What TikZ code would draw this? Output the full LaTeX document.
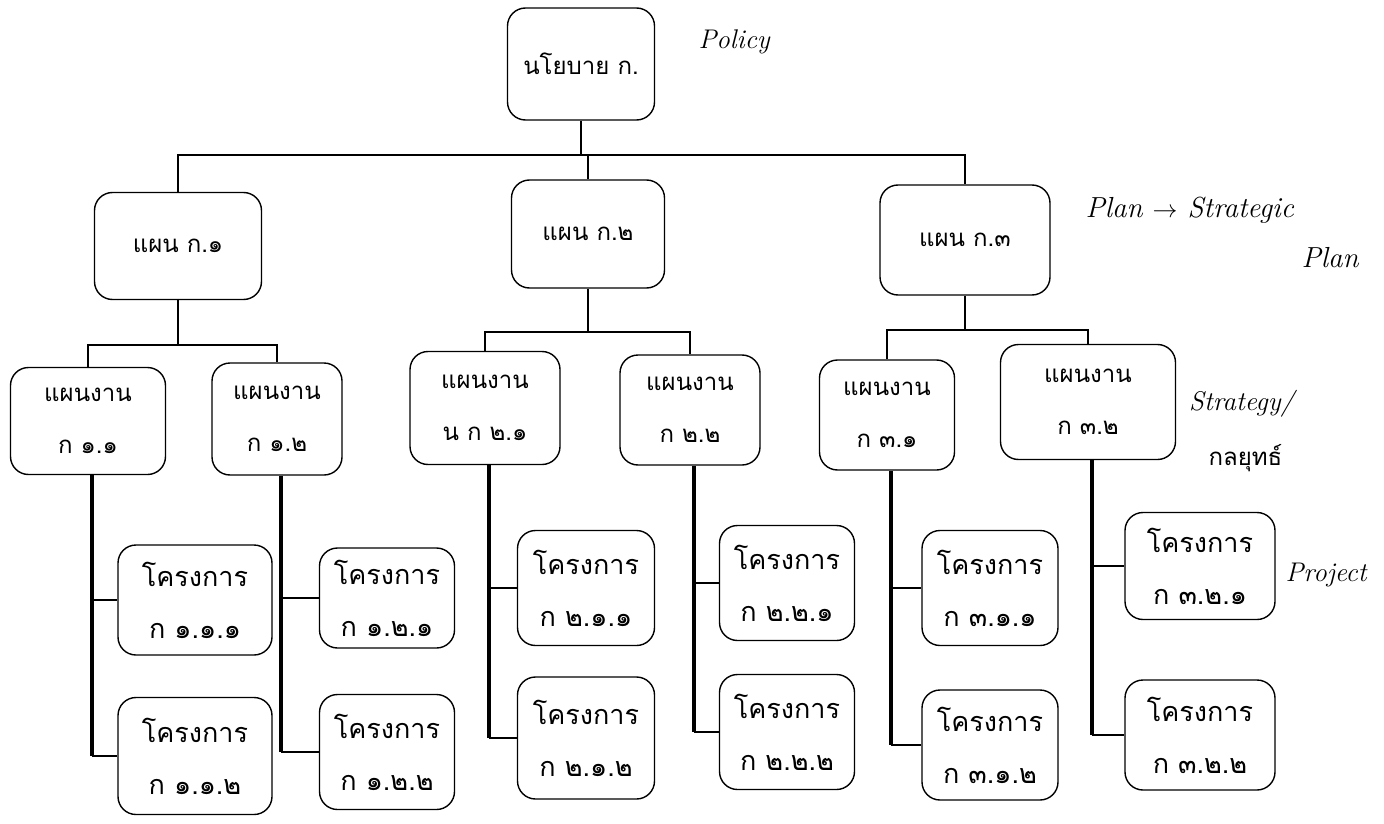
\documentclass[tikz,border=0pt]{standalone}
\usepackage{fontspec}
\newfontfamily\thai[Script=Thai]{Loma}
\begin{document}
\begin{tikzpicture}[x=1pt,y=-1pt,
  box/.style={draw,line width=1.4pt,rounded corners=18pt,align=center,font=\thai\fontsize{24}{52}\selectfont,inner sep=0pt},
  pbox/.style={box,font=\thai\fontsize{27}{52}\selectfont},
  conn/.style={line width=2.2pt},
  spine/.style={line width=4pt},
  hand/.style={font=\itshape\fontsize{27}{27}\selectfont,anchor=west}]
\useasboundingbox (0,0) rectangle (1384,824);
% level 1
\node[box,minimum width=147pt,minimum height=112pt] (pol) at (581,64) {นโยบาย ก.};
% level 2
\node[box,minimum width=167pt,minimum height=107pt] (p1) at (178,246) {แผน ก.๑};
\node[box,minimum width=153pt,minimum height=108pt] (p2) at (588,234) {แผน ก.๒};
\node[box,minimum width=170pt,minimum height=110pt] (p3) at (965,240) {แผน ก.๓};
% level 3
\node[box,minimum width=155pt,minimum height=107pt] (w11) at (88,421) {แผนงาน\\ก ๑.๑};
\node[box,minimum width=130pt,minimum height=112pt] (w12) at (277,419) {แผนงาน\\ก ๑.๒};
\node[box,minimum width=150pt,minimum height=113pt] (w21) at (485,408) {แผนงาน\\น ก ๒.๑};
\node[box,minimum width=140pt,minimum height=110pt] (w22) at (690,410) {แผนงาน\\ก ๒.๒};
\node[box,minimum width=135pt,minimum height=110pt] (w31) at (887,415) {แผนงาน\\ก ๓.๑};
\node[box,minimum width=175pt,minimum height=115pt] (w32) at (1088,402) {แผนงาน\\ก ๓.๒};
% level 4
\node[pbox,minimum width=154pt,minimum height=110pt] (x111) at (195,600) {โครงการ\\ก ๑.๑.๑};
\node[pbox,minimum width=154pt,minimum height=117pt] (x112) at (195,756) {โครงการ\\ก ๑.๑.๒};
\node[pbox,minimum width=135pt,minimum height=100pt] (x121) at (387,598) {โครงการ\\ก ๑.๒.๑};
\node[pbox,minimum width=135pt,minimum height=115pt] (x122) at (387,752) {โครงการ\\ก ๑.๒.๒};
\node[pbox,minimum width=137pt,minimum height=115pt] (x211) at (586,588) {โครงการ\\ก ๒.๑.๑};
\node[pbox,minimum width=137pt,minimum height=122pt] (x212) at (586,738) {โครงการ\\ก ๒.๑.๒};
\node[pbox,minimum width=135pt,minimum height=115pt] (x221) at (787,583) {โครงการ\\ก ๒.๒.๑};
\node[pbox,minimum width=135pt,minimum height=115pt] (x222) at (787,732) {โครงการ\\ก ๒.๒.๒};
\node[pbox,minimum width=136pt,minimum height=115pt] (x311) at (990,588) {โครงการ\\ก ๓.๑.๑};
\node[pbox,minimum width=136pt,minimum height=110pt] (x312) at (990,745) {โครงการ\\ก ๓.๑.๒};
\node[pbox,minimum width=150pt,minimum height=107pt] (x321) at (1200,566) {โครงการ\\ก ๓.๒.๑};
\node[pbox,minimum width=150pt,minimum height=110pt] (x322) at (1200,735) {โครงการ\\ก ๓.๒.๒};
% connectors level 1-2
\coordinate (j0) at (583,155);
\draw[conn] (pol.south) -- (pol.south |- j0);
\draw[conn] (p1.north) -- (p1.north |- j0) -- (p3.north |- j0) -- (p3.north);
\draw[conn] (p2.north) -- (p2.north |- j0);
% level 2-3
\coordinate (j1) at (183,345);
\draw[conn] (p1.south) -- (p1.south |- j1);
\draw[conn] (w11.north) -- (w11.north |- j1) -- (w12.north |- j1) -- (w12.north);
\coordinate (j2) at (588,332);
\draw[conn] (p2.south) -- (p2.south |- j2);
\draw[conn] (w21.north) -- (w21.north |- j2) -- (w22.north |- j2) -- (w22.north);
\coordinate (j3) at (965,330);
\draw[conn] (p3.south) -- (p3.south |- j3);
\draw[conn] (w31.north) -- (w31.north |- j3) -- (w32.north |- j3) -- (w32.north);
% level 3-4
\foreach \w/\a/\b in {w11/x111/x112,w12/x121/x122,w21/x211/x212,w22/x221/x222,w31/x311/x312,w32/x321/x322}{
  \draw[spine] ([xshift=4pt]\w.south) -- ([xshift=4pt]\w.south |- \b.west);
  \draw[conn] ([xshift=4pt]\w.south |- \a.west) -- (\a.west);
  \draw[conn] ([xshift=4pt]\w.south |- \b.west) -- (\b.west);
}
% handwritten notes
\node[hand] (n1) at (695,42) {Policy};
\node[hand,font=\itshape\fontsize{29}{29}\selectfont] (n2) at (1082,210) {Plan $\rightarrow$ Strategic};
\node[hand,font=\itshape\fontsize{29}{29}\selectfont] (n3) at (1298,258) {Plan};
\node[hand,inner sep=1pt] (n4) at (1188,404) {Strategy/};
\node[hand,font=\thai\fontsize{24}{24}\selectfont] (n5) at (1205,458) {กลยุทธ์};
\node[hand] (n6) at (1282,575) {Project};
\end{tikzpicture}
\end{document}
